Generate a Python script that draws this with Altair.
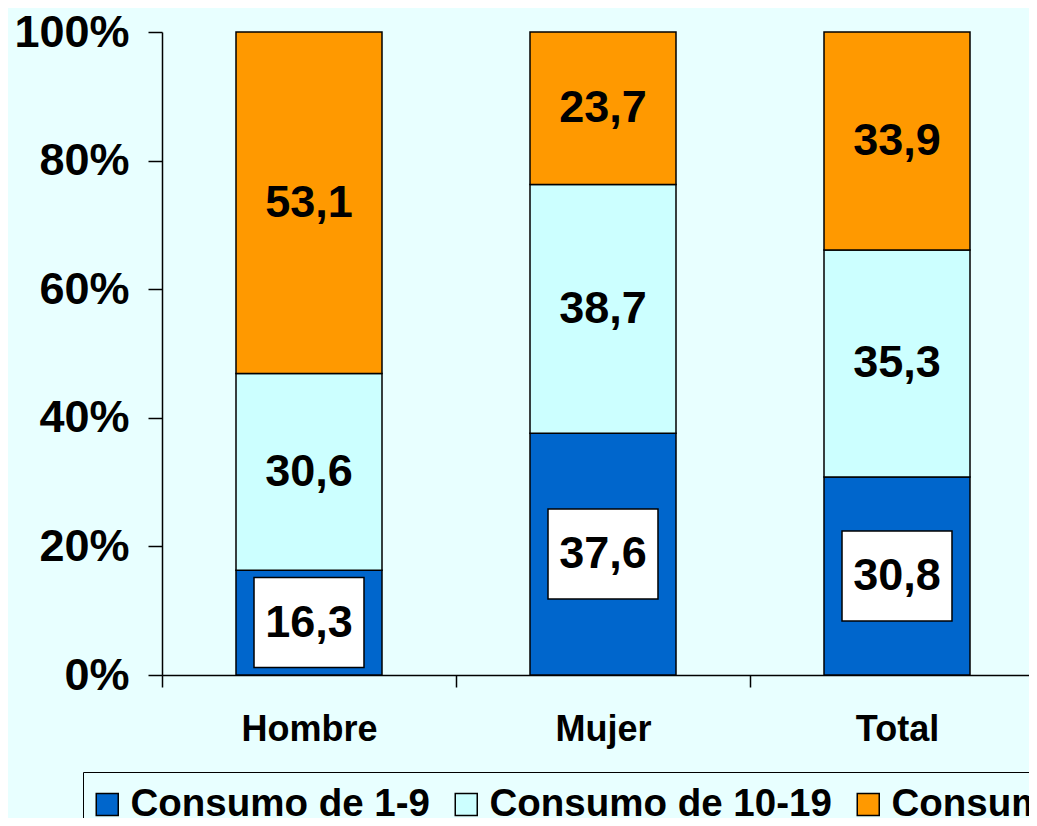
import altair as alt
import pandas as pd

grupos = ["Hombre", "Mujer", "Total"]
series = ["Consumo de 1-9", "Consumo de 10-19", "Consumo de 20 y más"]
c1_9 = [16.3, 37.6, 30.8]
c10_19 = [30.6, 38.7, 35.3]
c20 = [53.1, 23.7, 33.9]
colores = ["#0066CC", "#CCFFFF", "#FF9900"]
y_ticks = [0, 20, 40, 60, 80, 100]

FONT = "Liberation Sans"
BG = "#E8FFFF"

rows = []
for orden, (s, vals) in enumerate(zip(series, [c1_9, c10_19, c20])):
    for g, v in zip(grupos, vals):
        rows.append({"grupo": g, "serie": s, "orden": orden, "valor": v,
                     "texto": f"{v:.1f}".replace(".", ",")})
df = pd.DataFrame(rows)

base = alt.Chart(df).transform_stack(
    stack="valor", as_=["y0", "y1"], groupby=["grupo"],
    sort=[alt.SortField("orden", order="ascending")]
).transform_calculate(ymid="(datum.y0 + datum.y1) / 2")

x_axis = alt.Axis(title=None, labelAngle=0, labelFontSize=36, labelFont=FONT,
                  labelFontWeight="bold", labelColor="black", tickBand="extent",
                  tickSize=12, tickColor="black", tickWidth=1.5, domainColor="black",
                  domainWidth=1.5, labelPadding=25)
x_scale = alt.Scale(range=[0, 882], paddingInner=0, paddingOuter=0)
y_axis = alt.Axis(title=None, values=y_ticks, labelExpr="datum.value + '%'",
                  labelFontSize=45, labelFont=FONT, labelFontWeight="bold",
                  labelColor="black", tickSize=14, tickColor="black", tickWidth=1.5,
                  domainColor="black", domainWidth=1.5, labelPadding=19,
                  grid=False, labelFlush=False, labelOverlap=False)
y_scale = alt.Scale(domain=[0, 100], nice=False, zero=True)

bars = base.mark_bar(stroke="black", strokeWidth=1.5, width=146).encode(
    x=alt.X("grupo:N", sort=grupos, scale=x_scale, axis=x_axis),
    y=alt.Y("y0:Q", scale=y_scale, axis=y_axis),
    y2="y1:Q",
    color=alt.Color("serie:N", scale=alt.Scale(domain=series, range=colores),
                    legend=alt.Legend(orient="none", legendX=-79, legendY=740,
                                      direction="horizontal", title=None,
                                      labelFontSize=38.5, labelFont=FONT,
                                      labelFontWeight="bold", labelColor="black",
                                      symbolType="square", symbolSize=484,
                                      symbolStrokeColor="black", symbolStrokeWidth=1.5,
                                      symbolOpacity=1, symbolOffset=-8, labelOffset=4,
                                      padding=13, strokeColor="black", fillColor=BG,
                                      columnPadding=22, labelLimit=0)),
    order=alt.Order("orden:Q"),
)

boxes = base.transform_filter("datum.orden == 0").mark_point(
    shape="M-1.222,-1L1.222,-1L1.222,1L-1.222,1Z", size=8100, filled=True,
    fill="white", stroke="black", strokeWidth=1.5, opacity=1
).encode(
    x=alt.X("grupo:N", sort=grupos, scale=x_scale, axis=x_axis),
    y=alt.Y("ymid:Q", scale=y_scale, axis=y_axis),
)

texts = base.mark_text(fontSize=45, font=FONT, fontWeight="bold", color="black",
                       baseline="middle", align="center").encode(
    x=alt.X("grupo:N", sort=grupos, scale=x_scale, axis=x_axis),
    y=alt.Y("ymid:Q", scale=y_scale, axis=y_axis),
    text="texto:N",
)

chart = alt.layer(bars, boxes, texts).properties(
    width=867, height=643,
    autosize=alt.AutoSizeParams(type="none"),
    padding={"left": 154, "top": 24, "right": 0, "bottom": 143},
    background=BG,
).configure_view(stroke=None)

chart.save("out.html", embed_options={"renderer": "svg", "actions": False})
